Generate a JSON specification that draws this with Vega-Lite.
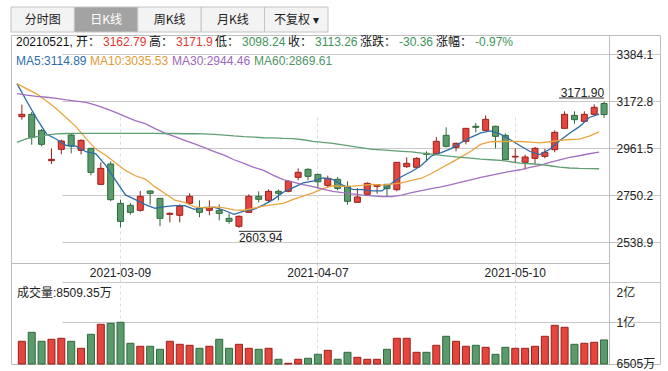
{
  "$schema": "https://vega.github.io/schema/vega-lite/v6.json",
  "padding": {"left": 10, "top": 6, "right": 9, "bottom": 9},
  "background": "white",
  "spacing": 1,
  "resolve": {"scale": {"color": "independent", "stroke": "independent"}, "legend": {"color": "independent", "stroke": "independent"}},
  "config": {
    "font": "Liberation Sans, Noto Sans CJK SC",
    "view": {"stroke": "#bdbdbd", "strokeWidth": 1},
    "axis": {"labelFont": "Liberation Sans, Noto Sans CJK SC", "labelFontSize": 12, "labelColor": "#222222", "title": null},
    "legend": {"labelFont": "Liberation Sans, Noto Sans CJK SC", "labelFontSize": 12, "symbolSize": 0, "symbolStrokeWidth": 0, "symbolOpacity": 0, "padding": 0, "labelLimit": 400, "layout": {"direction": "vertical", "margin": 11}},
    "text": {"font": "Liberation Sans, Noto Sans CJK SC", "fontSize": 12}
  },
  "datasets": {
    "tabs": [{"tab": "分时图"}, {"tab": "日K线"}, {"tab": "周K线"}, {"tab": "月K线"}, {"tab": "不复权 ▾"}],
    "hdr": [
      {"seg": "20210521, 开："}, {"seg": "3162.79"}, {"seg": "高："}, {"seg": "3171.9"},
      {"seg": "低："}, {"seg": "3098.24"}, {"seg": "收："}, {"seg": "3113.26"},
      {"seg": "涨跌："}, {"seg": "-30.36"}, {"seg": "涨幅："}, {"seg": "-0.97%"}
    ],
    "k": [
      {"d": "2021-02-23", "o": 3103.7, "h": 3157.6, "l": 3090.2, "c": 3114.2, "v": 8396, "ma5": 3252, "ma10": 3252, "ma30": 3207, "ma60": 2988},
      {"d": "2021-02-24", "o": 3114.2, "h": 3124.7, "l": 2977.8, "c": 3010.8, "v": 9155, "ma5": 3173, "ma10": 3229, "ma30": 3201, "ma60": 3005},
      {"d": "2021-02-25", "o": 3042.2, "h": 3048.2, "l": 2970.3, "c": 2979.3, "v": 8396, "ma5": 3095, "ma10": 3206, "ma30": 3195, "ma60": 3014},
      {"d": "2021-02-26", "o": 2905.9, "h": 2961.3, "l": 2890.9, "c": 2911.9, "v": 8564, "ma5": 3026, "ma10": 3174, "ma30": 3191, "ma60": 3021},
      {"d": "2021-03-01", "o": 2956.8, "h": 3000.3, "l": 2934.3, "c": 2994.3, "v": 8649, "ma5": 3002, "ma10": 3139, "ma30": 3186, "ma60": 3026},
      {"d": "2021-03-02", "o": 3021.3, "h": 3027.3, "l": 2938.8, "c": 2971.8, "v": 8396, "ma5": 2974, "ma10": 3099, "ma30": 3179, "ma60": 3028},
      {"d": "2021-03-03", "o": 2952.3, "h": 3001.8, "l": 2934.3, "c": 2997.3, "v": 7805, "ma5": 2971, "ma10": 3058, "ma30": 3174, "ma60": 3029},
      {"d": "2021-03-04", "o": 2961.3, "h": 2963.0, "l": 2839.9, "c": 2853.4, "v": 8986, "ma5": 2946, "ma10": 3005, "ma30": 3168, "ma60": 3029},
      {"d": "2021-03-05", "o": 2799.5, "h": 2898.4, "l": 2797.0, "c": 2871.4, "v": 9830, "ma5": 2937, "ma10": 2958, "ma30": 3156, "ma60": 3029},
      {"d": "2021-03-08", "o": 2890.9, "h": 2902.9, "l": 2723.0, "c": 2730.5, "v": 9915, "ma5": 2885, "ma10": 2930, "ma30": 3140, "ma60": 3029},
      {"d": "2021-03-09", "o": 2714.0, "h": 2730.5, "l": 2606.2, "c": 2633.1, "v": 9999, "ma5": 2817, "ma10": 2895, "ma30": 3123, "ma60": 3029},
      {"d": "2021-03-10", "o": 2705.1, "h": 2715.5, "l": 2663.1, "c": 2673.6, "v": 8227, "ma5": 2752, "ma10": 2862, "ma30": 3104, "ma60": 3029},
      {"d": "2021-03-11", "o": 2682.6, "h": 2769.5, "l": 2676.6, "c": 2745.5, "v": 7974, "ma5": 2731, "ma10": 2838, "ma30": 3086, "ma60": 3029},
      {"d": "2021-03-12", "o": 2769.5, "h": 2772.5, "l": 2708.1, "c": 2759.0, "v": 7974, "ma5": 2708, "ma10": 2823, "ma30": 3072, "ma60": 3029},
      {"d": "2021-03-15", "o": 2736.5, "h": 2738.0, "l": 2610.7, "c": 2646.6, "v": 7720, "ma5": 2692, "ma10": 2788, "ma30": 3050, "ma60": 3029},
      {"d": "2021-03-16", "o": 2664.6, "h": 2673.6, "l": 2628.6, "c": 2669.1, "v": 8396, "ma5": 2699, "ma10": 2758, "ma30": 3030, "ma60": 3028},
      {"d": "2021-03-17", "o": 2660.2, "h": 2709.6, "l": 2628.7, "c": 2700.6, "v": 8142, "ma5": 2704, "ma10": 2728, "ma30": 3014, "ma60": 3028},
      {"d": "2021-03-18", "o": 2714.1, "h": 2759.1, "l": 2708.1, "c": 2745.6, "v": 8058, "ma5": 2704, "ma10": 2718, "ma30": 2997, "ma60": 3027},
      {"d": "2021-03-19", "o": 2693.1, "h": 2727.6, "l": 2651.2, "c": 2673.6, "v": 7805, "ma5": 2687, "ma10": 2698, "ma30": 2981, "ma60": 3027},
      {"d": "2021-03-22", "o": 2682.6, "h": 2727.6, "l": 2660.1, "c": 2693.1, "v": 7974, "ma5": 2696, "ma10": 2694, "ma30": 2965, "ma60": 3026},
      {"d": "2021-03-23", "o": 2682.6, "h": 2709.6, "l": 2637.7, "c": 2669.1, "v": 8564, "ma5": 2696, "ma10": 2698, "ma30": 2947, "ma60": 3024},
      {"d": "2021-03-24", "o": 2646.7, "h": 2669.1, "l": 2622.7, "c": 2633.2, "v": 7805, "ma5": 2683, "ma10": 2694, "ma30": 2931, "ma60": 3021},
      {"d": "2021-03-25", "o": 2610.7, "h": 2660.1, "l": 2603.94, "c": 2655.6, "v": 8142, "ma5": 2665, "ma10": 2685, "ma30": 2910, "ma60": 3017},
      {"d": "2021-03-26", "o": 2673.6, "h": 2754.6, "l": 2671.0, "c": 2745.6, "v": 7805, "ma5": 2679, "ma10": 2683, "ma30": 2894, "ma60": 3014},
      {"d": "2021-03-29", "o": 2745.6, "h": 2768.1, "l": 2718.6, "c": 2732.1, "v": 7720, "ma5": 2687, "ma10": 2692, "ma30": 2876, "ma60": 3012},
      {"d": "2021-03-30", "o": 2727.6, "h": 2777.0, "l": 2718.6, "c": 2768.1, "v": 7805, "ma5": 2707, "ma10": 2702, "ma30": 2862, "ma60": 3009},
      {"d": "2021-03-31", "o": 2768.1, "h": 2777.0, "l": 2727.6, "c": 2759.1, "v": 6876, "ma5": 2732, "ma10": 2708, "ma30": 2840, "ma60": 3008},
      {"d": "2021-04-01", "o": 2768.1, "h": 2817.5, "l": 2763.6, "c": 2813.0, "v": 6540, "ma5": 2764, "ma10": 2714, "ma30": 2821, "ma60": 3006},
      {"d": "2021-04-02", "o": 2831.0, "h": 2871.4, "l": 2817.5, "c": 2853.5, "v": 6876, "ma5": 2785, "ma10": 2732, "ma30": 2809, "ma60": 3005},
      {"d": "2021-04-06", "o": 2867.0, "h": 2871.4, "l": 2817.5, "c": 2835.5, "v": 6961, "ma5": 2806, "ma10": 2747, "ma30": 2798, "ma60": 3000},
      {"d": "2021-04-07", "o": 2844.0, "h": 2847.0, "l": 2780.0, "c": 2811.0, "v": 7298, "ma5": 2814, "ma10": 2761, "ma30": 2789, "ma60": 2993},
      {"d": "2021-04-08", "o": 2795.0, "h": 2838.5, "l": 2783.0, "c": 2826.5, "v": 7636, "ma5": 2828, "ma10": 2780, "ma30": 2778, "ma60": 2988},
      {"d": "2021-04-09", "o": 2822.0, "h": 2832.5, "l": 2772.5, "c": 2781.5, "v": 6876, "ma5": 2822, "ma10": 2793, "ma30": 2768, "ma60": 2984},
      {"d": "2021-04-12", "o": 2790.5, "h": 2813.0, "l": 2708.1, "c": 2723.1, "v": 7467, "ma5": 2796, "ma10": 2790, "ma30": 2762, "ma60": 2977},
      {"d": "2021-04-13", "o": 2718.6, "h": 2783.0, "l": 2718.6, "c": 2742.6, "v": 7045, "ma5": 2777, "ma10": 2791, "ma30": 2757, "ma60": 2970},
      {"d": "2021-04-14", "o": 2754.5, "h": 2808.5, "l": 2754.5, "c": 2804.0, "v": 6876, "ma5": 2776, "ma10": 2795, "ma30": 2751, "ma60": 2963},
      {"d": "2021-04-15", "o": 2790.5, "h": 2799.0, "l": 2757.5, "c": 2798.0, "v": 6876, "ma5": 2770, "ma10": 2799, "ma30": 2748, "ma60": 2957},
      {"d": "2021-04-16", "o": 2799.5, "h": 2800.0, "l": 2745.6, "c": 2780.0, "v": 7720, "ma5": 2770, "ma10": 2796, "ma30": 2744, "ma60": 2954},
      {"d": "2021-04-19", "o": 2775.5, "h": 2899.0, "l": 2768.0, "c": 2898.4, "v": 8649, "ma5": 2805, "ma10": 2800, "ma30": 2744, "ma60": 2951},
      {"d": "2021-04-20", "o": 2879.0, "h": 2921.0, "l": 2873.0, "c": 2894.0, "v": 8649, "ma5": 2835, "ma10": 2806, "ma30": 2751, "ma60": 2948},
      {"d": "2021-04-21", "o": 2876.0, "h": 2921.0, "l": 2873.0, "c": 2916.4, "v": 7467, "ma5": 2857, "ma10": 2817, "ma30": 2762, "ma60": 2945},
      {"d": "2021-04-22", "o": 2938.9, "h": 2947.9, "l": 2901.4, "c": 2934.4, "v": 7467, "ma5": 2885, "ma10": 2827, "ma30": 2771, "ma60": 2940},
      {"d": "2021-04-23", "o": 2937.4, "h": 3012.3, "l": 2937.0, "c": 2992.8, "v": 8058, "ma5": 2927, "ma10": 2848, "ma30": 2780, "ma60": 2935},
      {"d": "2021-04-26", "o": 3019.8, "h": 3055.8, "l": 2965.8, "c": 2970.3, "v": 8818, "ma5": 2942, "ma10": 2873, "ma30": 2788, "ma60": 2930},
      {"d": "2021-04-27", "o": 2965.8, "h": 2987.0, "l": 2947.9, "c": 2983.8, "v": 8396, "ma5": 2960, "ma10": 2897, "ma30": 2798, "ma60": 2925},
      {"d": "2021-04-28", "o": 2992.8, "h": 3052.0, "l": 2979.3, "c": 3051.3, "v": 7974, "ma5": 2987, "ma10": 2922, "ma30": 2809, "ma60": 2921},
      {"d": "2021-04-29", "o": 3060.3, "h": 3075.2, "l": 3033.3, "c": 3055.8, "v": 8058, "ma5": 3011, "ma10": 2948, "ma30": 2820, "ma60": 2917},
      {"d": "2021-04-30", "o": 3042.3, "h": 3109.7, "l": 3041.0, "c": 3091.7, "v": 7889, "ma5": 3031, "ma10": 2979, "ma30": 2831, "ma60": 2913},
      {"d": "2021-05-06", "o": 3060.3, "h": 3063.0, "l": 2961.3, "c": 3015.3, "v": 7298, "ma5": 3040, "ma10": 2991, "ma30": 2840, "ma60": 2910},
      {"d": "2021-05-07", "o": 3019.8, "h": 3028.8, "l": 2909.0, "c": 2910.4, "v": 7889, "ma5": 3025, "ma10": 2992, "ma30": 2849, "ma60": 2907},
      {"d": "2021-05-10", "o": 2922.4, "h": 2961.3, "l": 2893.9, "c": 2925.4, "v": 7805, "ma5": 3000, "ma10": 2993, "ma30": 2858, "ma60": 2901},
      {"d": "2021-05-11", "o": 2898.4, "h": 2932.9, "l": 2865.4, "c": 2922.4, "v": 7805, "ma5": 2973, "ma10": 2992, "ma30": 2865, "ma60": 2895},
      {"d": "2021-05-12", "o": 2916.4, "h": 2967.3, "l": 2887.9, "c": 2961.3, "v": 7974, "ma5": 2947, "ma10": 2989, "ma30": 2876, "ma60": 2892},
      {"d": "2021-05-13", "o": 2925.4, "h": 2958.4, "l": 2916.4, "c": 2943.4, "v": 8818, "ma5": 2933, "ma10": 2986, "ma30": 2885, "ma60": 2889},
      {"d": "2021-05-14", "o": 2955.4, "h": 3042.3, "l": 2943.4, "c": 3033.3, "v": 9746, "ma5": 2957, "ma10": 2991, "ma30": 2898, "ma60": 2883},
      {"d": "2021-05-17", "o": 3051.3, "h": 3127.7, "l": 3050.0, "c": 3114.2, "v": 9577, "ma5": 2995, "ma10": 2997, "ma30": 2910, "ma60": 2877},
      {"d": "2021-05-18", "o": 3109.7, "h": 3127.7, "l": 3072.2, "c": 3090.2, "v": 8142, "ma5": 3029, "ma10": 3001, "ma30": 2921, "ma60": 2873},
      {"d": "2021-05-19", "o": 3082.7, "h": 3127.7, "l": 3078.2, "c": 3114.2, "v": 8227, "ma5": 3059, "ma10": 3003, "ma30": 2928, "ma60": 2871},
      {"d": "2021-05-20", "o": 3114.2, "h": 3159.2, "l": 3109.7, "c": 3145.7, "v": 8311, "ma5": 3100, "ma10": 3016, "ma30": 2937, "ma60": 2870},
      {"d": "2021-05-21", "o": 3162.79, "h": 3171.9, "l": 3098.24, "c": 3113.26, "v": 8509.35, "ma5": 3114.89, "ma10": 3035.53, "ma30": 2944.46, "ma60": 2869.61}
    ]
  },
  "vconcat": [
    {
      "width": 317,
      "height": 25,
      "view": {"stroke": null},
      "data": {"name": "tabs"},
      "encoding": {
        "x": {"field": "tab", "type": "nominal", "sort": null, "axis": null, "scale": {"paddingInner": 0, "paddingOuter": 0}}
      },
      "layer": [
        {
          "mark": {"type": "bar", "stroke": "#c4c4c4", "strokeWidth": 1, "width": {"band": 1}},
          "encoding": {
            "fill": {"condition": {"test": "datum.tab == '日K线'", "value": "#a3a3a3"}, "value": "#f3f3f3"}
          }
        },
        {
          "mark": {"type": "text", "fontSize": 12, "font": "Noto Sans CJK SC"},
          "encoding": {
            "text": {"field": "tab"},
            "color": {"condition": {"test": "datum.tab == '日K线'", "value": "#ffffff"}, "value": "#222222"}
          }
        }
      ]
    },
    {
      "width": 649,
      "height": 329,
      "resolve": {"scale": {"y": "independent"}},
      "layer": [
        {
          "data": {"name": "k"},
          "layer": [
            {
              "data": {"name": "hdr"},
              "mark": {"type": "point", "opacity": 0},
              "encoding": {
                "color": {
                  "field": "seg", "type": "nominal", "sort": null,
                  "legend": {
                    "title": null, "orient": "top-left", "direction": "horizontal", "gridAlign": "none",
                    "offset": 5, "columnPadding": 2, "labelOffset": -12,
                    "encoding": {
                      "labels": {
                        "dy": {"value": -4},
                        "fill": {
                          "condition": [
                            {"test": "indexof(['3162.79', '3171.9'], datum.value) >= 0", "value": "#e0382f"},
                            {"test": "indexof(['3098.24', '3113.26', '-30.36', '-0.97%'], datum.value) >= 0", "value": "#3d955a"}
                          ],
                          "value": "#111111"
                        }
                      }
                    }
                  }
                }
              }
            },
            {
              "transform": [{"filter": "datum.c >= datum.o"}],
              "mark": {"type": "rule", "color": "#96201b", "strokeWidth": 1},
              "encoding": {
                "x": {
                  "field": "d", "type": "ordinal", "title": null,
                  "scale": {"type": "band", "range": [0, 598], "paddingInner": 0, "paddingOuter": 0.3, "align": 1},
                  "axis": {
                    "orient": "bottom", "offset": -101, "values": ["2021-03-09", "2021-04-07", "2021-05-10"],
                    "labelAngle": 0, "domainColor": "#bdbdbd", "tickSize": 19, "tickColor": "#d6d6d6", "tickDash": [3, 3],
                    "bandPosition": 0.5, "labelPadding": -15, "labelColor": "#222222",
                    "grid": true, "gridColor": "#dddddd", "gridDash": [3, 3]
                  }
                },
                "y": {
                  "field": "l", "type": "quantitative", "title": null,
                  "scale": {"domain": [2360.4, 3470.9], "range": [247, 0], "nice": false, "zero": false},
                  "axis": {
                    "orient": "right", "offset": -51, "values": [3384.1, 3172.8, 2961.5, 2750.2, 2538.9], "format": ".1f",
                    "domainColor": "#bdbdbd", "tickColor": "#bdbdbd", "tickSize": 5, "labelPadding": 2,
                    "grid": true, "gridColor": "#c9c9c9"
                  }
                },
                "y2": {"field": "h"}
              }
            },
            {
              "transform": [{"filter": "datum.c < datum.o"}],
              "mark": {"type": "rule", "color": "#2c6a3a", "strokeWidth": 1},
              "encoding": {
                "x": {"field": "d", "type": "ordinal"},
                "y": {"field": "l", "type": "quantitative"},
                "y2": {"field": "h"}
              }
            },
            {
              "transform": [{"filter": "datum.c >= datum.o"}],
              "mark": {"type": "bar", "fill": "#e4463d", "stroke": "#9a1f1a", "strokeWidth": 1, "width": 6},
              "encoding": {
                "x": {"field": "d", "type": "ordinal"},
                "y": {"field": "o", "type": "quantitative"},
                "y2": {"field": "c"}
              }
            },
            {
              "transform": [{"filter": "datum.c < datum.o"}],
              "mark": {"type": "bar", "fill": "#5b9a6d", "stroke": "#2c6a3a", "strokeWidth": 1, "width": 6},
              "encoding": {
                "x": {"field": "d", "type": "ordinal"},
                "y": {"field": "o", "type": "quantitative"},
                "y2": {"field": "c"}
              }
            },
            {
              "transform": [{"fold": ["ma5", "ma10", "ma30", "ma60"], "as": ["series", "val"]}],
              "mark": {"type": "line", "strokeWidth": 1.3},
              "encoding": {
                "x": {"field": "d", "type": "ordinal", "bandPosition": 0},
                "y": {"field": "val", "type": "quantitative"},
                "stroke": {
                  "field": "series", "type": "nominal",
                  "scale": {"domain": ["ma5", "ma10", "ma30", "ma60"], "range": ["#2d6ca8", "#eaa43f", "#a26fc1", "#5f9f74"]},
                  "legend": {
                    "title": null, "orient": "top-left", "direction": "horizontal", "gridAlign": "none",
                    "offset": 5, "columnPadding": 3, "labelOffset": -12,
                    "labelExpr": "datum.value == 'ma5' ? 'MA5:3114.89' : datum.value == 'ma10' ? 'MA10:3035.53' : datum.value == 'ma30' ? 'MA30:2944.46' : 'MA60:2869.61'",
                    "encoding": {
                      "labels": {
                        "dy": {"value": -4},
                        "fill": {
                          "condition": [
                            {"test": "datum.value == 'ma5'", "value": "#2d6ca8"},
                            {"test": "datum.value == 'ma10'", "value": "#e39a32"},
                            {"test": "datum.value == 'ma30'", "value": "#9c66bd"}
                          ],
                          "value": "#4f9467"
                        }
                      }
                    }
                  }
                }
              }
            },
            {
              "transform": [{"joinaggregate": [{"op": "max", "field": "h", "as": "hmax"}]}, {"filter": "datum.h == datum.hmax"}],
              "mark": {"type": "text", "align": "right", "baseline": "alphabetic", "dy": -5, "color": "#222222"},
              "encoding": {
                "x": {"field": "d", "type": "ordinal"},
                "y": {"field": "h", "type": "quantitative"},
                "text": {"field": "h", "type": "quantitative", "format": ".2f"}
              }
            },
            {
              "transform": [{"joinaggregate": [{"op": "max", "field": "h", "as": "hmax"}]}, {"filter": "datum.h == datum.hmax"}],
              "mark": {"type": "rule", "color": "#333333", "strokeWidth": 1, "xOffset": -45, "yOffset": -3.5},
              "encoding": {
                "x": {"field": "d", "type": "ordinal"},
                "x2": {"field": "d"},
                "y": {"field": "h", "type": "quantitative"}
              }
            },
            {
              "transform": [{"joinaggregate": [{"op": "min", "field": "l", "as": "lmin"}]}, {"filter": "datum.l == datum.lmin"}],
              "mark": {"type": "text", "align": "left", "baseline": "top", "dy": 5, "color": "#222222"},
              "encoding": {
                "x": {"field": "d", "type": "ordinal"},
                "y": {"field": "l", "type": "quantitative"},
                "text": {"field": "l", "type": "quantitative", "format": ".2f"}
              }
            },
            {
              "transform": [{"joinaggregate": [{"op": "min", "field": "l", "as": "lmin"}]}, {"filter": "datum.l == datum.lmin"}],
              "mark": {"type": "rule", "color": "#333333", "strokeWidth": 1, "x2Offset": 43, "yOffset": 3.5},
              "encoding": {
                "x": {"field": "d", "type": "ordinal"},
                "x2": {"field": "d"},
                "y": {"field": "l", "type": "quantitative"}
              }
            }
          ]
        },
        {
          "data": {"name": "k"},
          "layer": [
            {
              "transform": [{"filter": "datum.c >= datum.o"}],
              "mark": {"type": "bar", "fill": "#e4463d", "stroke": "#9a1f1a", "strokeWidth": 1, "width": 7},
              "encoding": {
                "x": {"field": "d", "type": "ordinal"},
                "y": {
                  "field": "v", "type": "quantitative", "title": null,
                  "scale": {"domain": [6480, 13400], "range": [329, 247], "nice": false, "zero": false},
                  "axis": {
                    "orient": "right", "offset": -51, "values": [6505, 10000, 12472, 13400],
                    "labelExpr": "datum.value == 6505 ? '6505万' : datum.value == 10000 ? '1亿' : datum.value == 12472 ? '2亿' : ''",
                    "domainColor": "#bdbdbd", "tickSize": 5, "labelPadding": 2,
                    "tickColor": {"condition": {"test": "datum.value == 6505 || datum.value == 10000", "value": "#bdbdbd"}, "value": "transparent"},
                    "grid": true,
                    "gridColor": {"condition": {"test": "datum.value == 10000 || datum.value == 13400", "value": "#c9c9c9"}, "value": "transparent"}
                  }
                },
                "y2": {"datum": 6480}
              }
            },
            {
              "transform": [{"filter": "datum.c < datum.o"}],
              "mark": {"type": "bar", "fill": "#5b9a6d", "stroke": "#2c6a3a", "strokeWidth": 1, "width": 7},
              "encoding": {
                "x": {"field": "d", "type": "ordinal"},
                "y": {"field": "v", "type": "quantitative"},
                "y2": {"datum": 6480}
              }
            },
            {
              "transform": [
                {"filter": "datum.d == '2021-05-21'"},
                {"calculate": "'成交量:' + format(datum.v, '.2f') + '万'", "as": "lbl"}
              ],
              "mark": {"type": "text", "align": "left", "baseline": "middle", "color": "#222222"},
              "encoding": {
                "x": {"datum": "2021-02-23", "type": "ordinal", "bandPosition": 0},
                "y": {"datum": 12472, "type": "quantitative"},
                "text": {"field": "lbl"}
              }
            }
          ]
        }
      ]
    }
  ]
}
